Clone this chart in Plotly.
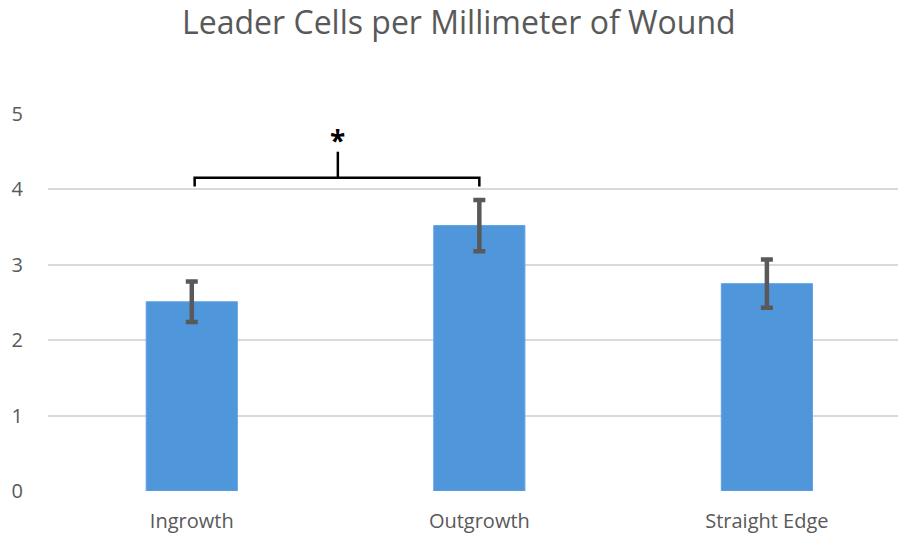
import plotly.graph_objects as go

categories = ["Ingrowth", "Outgrowth", "Straight Edge"]
means = [2.51, 3.52, 2.75]
errors = [0.27, 0.34, 0.32]
y_ticks = [0, 1, 2, 3, 4, 5]

fig = go.Figure()
fig.add_trace(go.Bar(
    x=categories, y=means,
    width=0.317,
    marker=dict(color="#5096da", line=dict(color="#5ea3e4", width=1)),
    error_y=dict(type="data", array=errors, color="#595959", thickness=4.5, width=6),
    showlegend=False,
))

# significance bracket between Ingrowth and Outgrowth
x0, x1 = 0.01, 1.0
y_low, y_high, y_top = 4.04, 4.155, 4.5
fig.add_shape(type="path",
              path=f"M {x0} {y_low} L {x0} {y_high} L {x1} {y_high} L {x1} {y_low}",
              xref="x", yref="y", line=dict(color="black", width=2.5))
fig.add_shape(type="line", x0=0.508, x1=0.508, y0=y_high, y1=y_top,
              xref="x", yref="y", line=dict(color="black", width=2.5))
fig.add_annotation(x=0.508, y=4.65, text="<b>*</b>", showarrow=False,
                   xref="x", yref="y", yanchor="middle",
                   font=dict(size=28, color="black", family="Open Sans"))

fig.update_layout(
    width=898, height=539,
    margin=dict(l=48, r=0, t=114, b=48),
    plot_bgcolor="white", paper_bgcolor="white",
    title=dict(text="Leader Cells per Millimeter of Wound", x=0.511, xanchor="center",
               y=0.957, yanchor="middle", yref="container",
               font=dict(family="Open Sans", size=32, color="#595959")),
    font=dict(family="Open Sans", color="#595959"),
    xaxis=dict(range=[-0.5, 2.456], showgrid=False, showline=False, ticks="",
               tickfont=dict(size=20, color="#595959"), ticklabelstandoff=16),
    yaxis=dict(range=[0, 5], tickvals=y_ticks, showgrid=True, gridcolor="#d9d9d9",
               gridwidth=1.5, zeroline=False, showline=False, ticks="",
               tickfont=dict(size=20, color="#595959"), ticklabelstandoff=24),
)

fig.write_html("out.html", config={"displayModeBar": False},
               post_script="document.body.style.margin='0px';")
